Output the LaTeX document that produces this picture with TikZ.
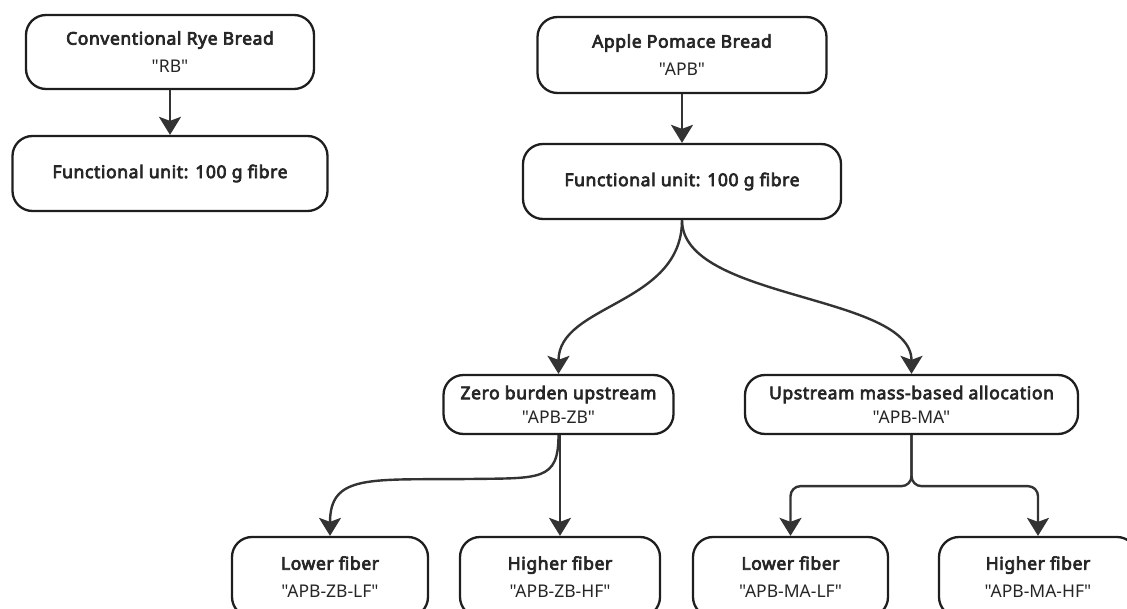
\documentclass[tikz,border=0pt]{standalone}
\usepackage{fontspec}
\setmainfont{Noto Sans}[Ligatures=TeXOff]
\newfontfamily\boldnoto{Noto Sans}[Ligatures=TeXOff,FakeBold=4,LetterSpace=3.5]
\newcommand{\ttl}[1]{{\boldnoto #1}}
\usetikzlibrary{arrows.meta,calc}
\definecolor{edgecol}{HTML}{333333}
\definecolor{boxcol}{HTML}{1E1E1E}
\begin{document}
\begin{tikzpicture}[x=1pt,y=-1pt,
  box/.style={draw=boxcol,line width=2.3pt,rounded corners=20pt,fill=white,
    align=center,inner sep=0pt,font=\fontsize{17.5}{28}\selectfont,text=black!85},
  smallbox/.style={box,font=\fontsize{17.5}{24}\selectfont},
  conn/.style={draw=edgecol,line width=2.4pt,
    -{Stealth[length=18pt,width=22pt,inset=4pt]}}]
\useasboundingbox (0,0) rectangle (1127,609);
% nodes
\node[box,minimum width=288pt,minimum height=74pt] (rb) at (170,52)
  {\ttl{Conventional Rye Bread}\\"RB"};
\node[box,minimum width=315pt,minimum height=75pt] (fu1) at (170,173.5)
  {\ttl{Functional unit: 100 g fibre}};
\node[box,minimum width=289pt,minimum height=76pt] (apb) at (682,55)
  {\ttl{Apple Pomace Bread}\\"APB"};
\node[box,minimum width=318pt,minimum height=75pt] (fu2) at (682,181.5)
  {\ttl{Functional unit: 100 g fibre}};
\node[smallbox,minimum width=230pt,minimum height=59pt] (zb) at (558.5,404.5)
  {\ttl{Zero burden upstream}\\"APB-ZB"};
\node[smallbox,minimum width=333pt,minimum height=59pt] (ma) at (911.5,404.5)
  {\ttl{Upstream mass-based allocation}\\"APB-MA"};
\node[box,minimum width=196pt,minimum height=80pt] (zblf) at (330,577)
  {\ttl{Lower fiber}\\"APB-ZB-LF"};
\node[box,minimum width=200pt,minimum height=80pt] (zbhf) at (560,577)
  {\ttl{Higher fiber}\\"APB-ZB-HF"};
\node[box,minimum width=195pt,minimum height=80pt] (malf) at (790.5,577)
  {\ttl{Lower fiber}\\"APB-MA-LF"};
\node[box,minimum width=198pt,minimum height=80pt] (mahf) at (1038,577)
  {\ttl{Higher fiber}\\"APB-MA-HF"};
% connectors
\draw[conn] (rb.south) -- (fu1.north);
\draw[conn] (apb.south) -- (fu2.north);
\draw[conn] (fu2.south) .. controls +(0,85) and +(0,-70) .. (zb.north);
\draw[conn] (fu2.south) .. controls +(0,80) and +(0,-80) .. (ma.north);
\coordinate (zbmid) at (470,479);
\draw[conn] (zb.south) .. controls +(0,46) and +(70,-1) .. (zbmid)
  .. controls +(-100,1) and +(0,-62) .. (zblf.north);
\draw[conn] (zb.south-|zbhf.north) -- (zbhf.north);
\draw[conn,rounded corners=10pt] (ma.south) -- ($(ma.south)+(0,51)$) -| (malf.north);
\draw[conn,rounded corners=10pt] (ma.south) -- ($(ma.south)+(0,51)$) -| (mahf.north);
\end{tikzpicture}
\end{document}
